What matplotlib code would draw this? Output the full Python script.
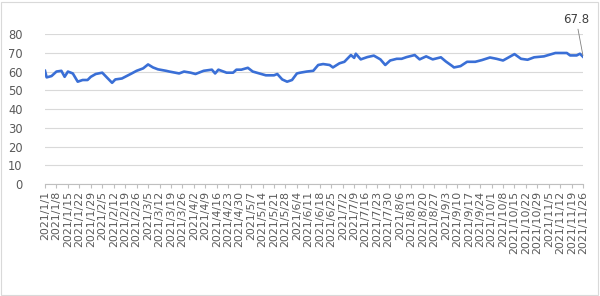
import matplotlib
matplotlib.use("Agg")
import matplotlib.pyplot as plt
import pandas as pd
from matplotlib.patches import Rectangle

dates = [
    "2021-01-01", "2021-01-02", "2021-01-05", "2021-01-08", "2021-01-11", "2021-01-13",
    "2021-01-15", "2021-01-18", "2021-01-21", "2021-01-24", "2021-01-27", "2021-01-29",
    "2021-02-01", "2021-02-05", "2021-02-11", "2021-02-13", "2021-02-17", "2021-02-19",
    "2021-02-23", "2021-02-26", "2021-03-02", "2021-03-05", "2021-03-08", "2021-03-11",
    "2021-03-16", "2021-03-18", "2021-03-24", "2021-03-27", "2021-03-31", "2021-04-03",
    "2021-04-08", "2021-04-13", "2021-04-15", "2021-04-17", "2021-04-22", "2021-04-26",
    "2021-04-28", "2021-05-01", "2021-05-05", "2021-05-08", "2021-05-12", "2021-05-16",
    "2021-05-21", "2021-05-23", "2021-05-26", "2021-05-29", "2021-06-01", "2021-06-04",
    "2021-06-06", "2021-06-10", "2021-06-14", "2021-06-17", "2021-06-20", "2021-06-24",
    "2021-06-26", "2021-06-30", "2021-07-03", "2021-07-07", "2021-07-09", "2021-07-10",
    "2021-07-13", "2021-07-17", "2021-07-21", "2021-07-25", "2021-07-28", "2021-07-31",
    "2021-08-04", "2021-08-07", "2021-08-10", "2021-08-15", "2021-08-18", "2021-08-22",
    "2021-08-26", "2021-08-31", "2021-09-03", "2021-09-07", "2021-09-08", "2021-09-12",
    "2021-09-16", "2021-09-21", "2021-09-25", "2021-09-30", "2021-10-04", "2021-10-08",
    "2021-10-15", "2021-10-19", "2021-10-23", "2021-10-27", "2021-11-02", "2021-11-09",
    "2021-11-16", "2021-11-18", "2021-11-22", "2021-11-24", "2021-11-26",
]
values = [
    60.4, 56.9, 57.6, 60.0, 60.4, 57.2,
    60.0, 59.0, 54.6, 55.5, 55.5, 57.2,
    58.7, 59.4, 54.0, 55.8, 56.3, 57.2,
    59.0, 60.4, 61.7, 63.8, 62.2, 61.2,
    60.4, 60.0, 59.0, 60.0, 59.4, 58.7,
    60.4, 61.0, 59.0, 61.0, 59.4, 59.4,
    61.0, 61.0, 62.0, 60.0, 59.0, 58.0,
    58.0, 58.7, 55.8, 54.6, 55.5, 59.0,
    59.4, 60.0, 60.4, 63.5, 64.0, 63.5,
    62.2, 64.4, 65.2, 68.8, 67.3, 69.5,
    66.5, 67.7, 68.5, 66.5, 63.5, 65.9,
    66.8, 66.8, 67.7, 68.8, 66.5, 68.1,
    66.5, 67.6, 65.4, 62.9, 62.2, 62.9,
    65.2, 65.2, 66.1, 67.5, 66.8, 65.9,
    69.3, 66.8, 66.3, 67.6, 68.1, 69.9,
    69.9, 68.6, 68.6, 69.5, 67.8,
]
y_ticks = [0, 10, 20, 30, 40, 50, 60, 70, 80]
tick_start, tick_end = "2021-01-01", "2021-11-26"
last_label = "67.8"

x = pd.to_datetime(dates)
tick_dates = pd.date_range(tick_start, tick_end, freq="7D")
tick_labels = [f"{d.year}/{d.month}/{d.day}" for d in tick_dates]

fig = plt.figure(figsize=(6.0, 2.96), dpi=100)
ax = fig.add_axes([0.075, 0.378, 0.897, 0.507])

ax.plot(x, values, color="#3A6FD6", lw=1.9, solid_joinstyle="round", zorder=3)

ax.set_ylim(0, 80)
ax.set_yticks(y_ticks)
ax.set_xlim(pd.Timestamp(tick_start), pd.Timestamp(tick_end))
ax.set_xticks(tick_dates)
ax.set_xticklabels(tick_labels, rotation=90, fontsize=7.9, color="#595959")
ax.tick_params(axis="y", length=0, labelsize=8.3, labelcolor="#595959", pad=16)
ax.tick_params(axis="x", length=3, color="#BFBFBF", width=0.8, pad=2)
ax.grid(axis="y", color="#D9D9D9", lw=0.8)
ax.set_axisbelow(True)
for s in ["top", "right", "left"]:
    ax.spines[s].set_visible(False)
ax.spines["bottom"].set_color("#BFBFBF")
ax.spines["bottom"].set_linewidth(0.8)

ax.annotate(last_label, xy=(x[-1], values[-1]), xytext=(-5, 22),
            textcoords="offset points", fontsize=8.5, color="#404040",
            ha="center", va="bottom",
            arrowprops=dict(arrowstyle="-", color="#808080", lw=0.6,
                            shrinkA=0, shrinkB=1))

fig.patches.append(Rectangle((0.002, 0.004), 0.995, 0.99, transform=fig.transFigure,
                             fill=False, edgecolor="#D9D9D9", lw=0.8))

fig.savefig("out.png", dpi=100)
